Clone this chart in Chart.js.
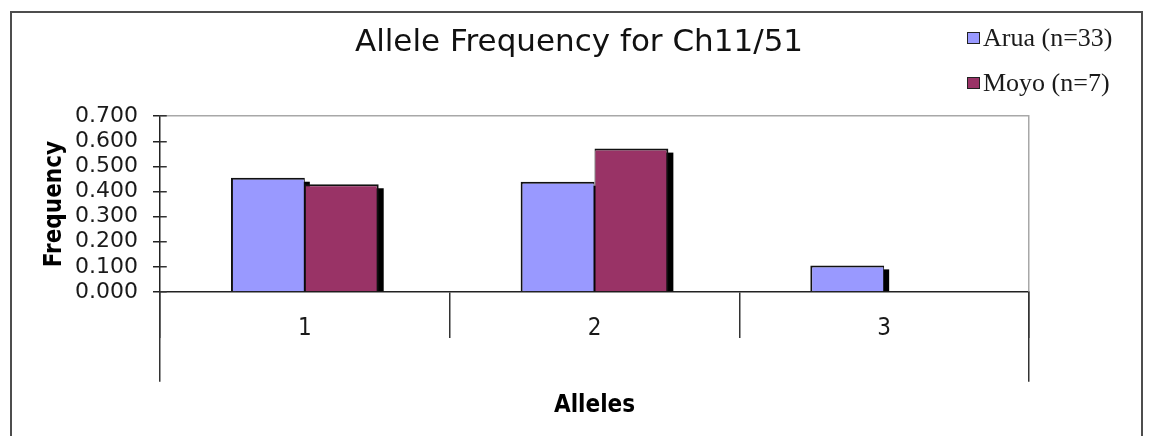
<!DOCTYPE html>
<html>
<head>
<meta charset="utf-8">
<script src="https://cdn.jsdelivr.net/npm/chart.js@4.4.1/dist/chart.umd.min.js"></script>
<style>
  html, body { margin: 0; padding: 0; background: #fff; }
  #wrap { width: 1153px; height: 436px; }
</style>
</head>
<body>
<div id="wrap"><canvas id="chart" width="1153" height="436"></canvas></div>
<script>
// Allele frequencies at locus Ch11/51 for two sampled populations
const alleles = ['1', '2', '3'];
const aruaFreq = [0.455, 0.439, 0.106];
const moyoFreq = [0.429, 0.571, 0];
const seriesNames = ['Arua (n=33)', 'Moyo (n=7)'];
const frequencyTicks = [0.000, 0.100, 0.200, 0.300, 0.400, 0.500, 0.600, 0.700];

const AXIS_FONT = '"DejaVu Sans Condensed", "DejaVu Sans", sans-serif';
const LINE_W = 1.5;
// snap a coordinate the same way the axis grid does for a 1.5px line
const snap = p => Math.round(p - LINE_W / 2) + LINE_W / 2;

// Page frame, plot border and the long end lines of the category axis
const frame = {
  id: 'frame',
  beforeDraw(chart) {
    const { ctx, width, height } = chart;
    ctx.save();
    ctx.fillStyle = '#fff';
    ctx.fillRect(0, 0, width, height);
    ctx.strokeStyle = '#4d4d4d';
    ctx.lineWidth = 2;
    ctx.strokeRect(11, 12, width - 22, height + 20);
    ctx.restore();
  },
  beforeDatasetsDraw(chart) {
    const { ctx, chartArea: a } = chart;
    const l = snap(a.left), r = snap(a.right), t = snap(a.top), b = snap(a.bottom);
    ctx.save();
    ctx.lineWidth = LINE_W;
    ctx.strokeStyle = '#a8a8a8';
    ctx.beginPath();
    ctx.moveTo(l, t);
    ctx.lineTo(r, t);
    ctx.lineTo(r, b);
    ctx.stroke();

    ctx.strokeStyle = '#333';
    ctx.beginPath();
    ctx.moveTo(l, b);
    ctx.lineTo(l, b + 90);
    ctx.moveTo(r, b);
    ctx.lineTo(r, b + 90);
    // y tick marks cross the axis
    const y = chart.scales.y;
    y.ticks.forEach((tk, i) => {
      const py = snap(y.getPixelForTick(i));
      ctx.moveTo(l, py);
      ctx.lineTo(l + 7, py);
    });
    ctx.stroke();
    ctx.restore();
  }
};

// Solid offset shadow behind every bar, laid down before any bar is drawn
const barShadow = {
  id: 'barShadow',
  beforeDatasetsDraw(chart) {
    const { ctx, chartArea: a } = chart;
    ctx.save();
    ctx.beginPath();
    ctx.rect(a.left, a.top, a.right - a.left, a.bottom - a.top);
    ctx.clip();
    ctx.fillStyle = '#000';
    chart.getSortedVisibleDatasetMetas().forEach(meta => {
      meta.data.forEach(bar => {
        const { x, y, base, width } = bar.getProps(['x', 'y', 'base', 'width'], true);
        const h = base - y;
        if (h <= 4) return;
        ctx.fillRect(x - width / 2 + 5, y + 4, width, h - 4);
      });
    });
    ctx.restore();
  }
};

// Legend stacked in the top-right corner
const cornerLegend = {
  id: 'cornerLegend',
  afterDraw(chart) {
    const { ctx } = chart;
    ctx.save();
    ctx.font = '26px "Liberation Serif", "Times New Roman", serif';
    ctx.textBaseline = 'middle';
    ctx.textAlign = 'left';
    chart.data.datasets.forEach((ds, i) => {
      const cy = 38 + i * 45;
      ctx.fillStyle = ds.backgroundColor;
      ctx.fillRect(967, cy - 6, 13, 12);
      ctx.strokeStyle = '#222';
      ctx.lineWidth = 1;
      ctx.strokeRect(967.5, cy - 5.5, 12, 11);
      ctx.fillStyle = '#1a1a1a';
      ctx.fillText(ds.label, 983, cy + 1);
    });
    ctx.restore();
  }
};

new Chart(document.getElementById('chart'), {
  type: 'bar',
  data: {
    labels: alleles,
    datasets: [
      {
        label: seriesNames[0],
        data: aruaFreq,
        backgroundColor: '#9999FF',
        borderColor: '#111',
        borderWidth: { top: 2, left: 2, right: 1, bottom: 0 },
        categoryPercentage: 0.51,
        barPercentage: 1
      },
      {
        label: seriesNames[1],
        data: moyoFreq,
        backgroundColor: '#993366',
        borderColor: '#111',
        borderWidth: { top: 2, left: 1, right: 2, bottom: 0 },
        categoryPercentage: 0.51,
        barPercentage: 1
      }
    ]
  },
  options: {
    responsive: false,
    animation: false,
    devicePixelRatio: 1,
    layout: { padding: { left: 5, right: 0, top: 0, bottom: 0 } },
    plugins: {
      legend: { display: false },
      tooltip: { enabled: false },
      title: {
        display: true,
        text: 'Allele Frequency for Ch11/51',
        color: '#111',
        font: { family: '"DejaVu Sans", Verdana, sans-serif', size: 31, weight: 'normal' },
        padding: { top: 24, bottom: 55 }
      }
    },
    scales: {
      x: {
        grid: {
          display: true,
          drawOnChartArea: false,
          drawTicks: true,
          tickLength: 46,
          offset: true,
          color: '#333',
          lineWidth: LINE_W
        },
        border: { display: true, color: '#222', width: LINE_W },
        ticks: {
          color: '#1a1a1a',
          padding: -24,
          font: { family: AXIS_FONT, size: 24 }
        },
        title: {
          display: true,
          text: 'Alleles',
          color: '#000',
          font: { family: AXIS_FONT, size: 24, weight: 'bold' },
          padding: { top: 0, bottom: 16 }
        },
        afterFit(s) { s.height = 144; }
      },
      y: {
        min: 0,
        max: 0.7,
        afterBuildTicks(s) { s.ticks = frequencyTicks.map(v => ({ value: v })); },
        ticks: {
          autoSkip: false,
          callback: v => Number(v).toFixed(3),
          color: '#1a1a1a',
          padding: 15,
          font: { family: '"DejaVu Sans", Verdana, sans-serif', size: 22 }
        },
        grid: {
          display: true,
          drawOnChartArea: false,
          tickLength: 7,
          color: '#222',
          lineWidth: LINE_W
        },
        border: { display: true, color: '#222', width: LINE_W },
        title: {
          display: true,
          text: 'Frequency',
          color: '#000',
          font: { family: AXIS_FONT, size: 24, weight: 'bold' },
          padding: { top: 35, bottom: 0 }
        },
        afterFit(s) { s.width = 155; }
      },
      gutter: {
        type: 'linear',
        position: 'right',
        display: true,
        grid: { display: false },
        border: { display: false },
        ticks: { display: false },
        afterFit(s) { s.width = 124; }
      }
    }
  },
  plugins: [frame, barShadow, cornerLegend]
});
</script>
</body>
</html>
